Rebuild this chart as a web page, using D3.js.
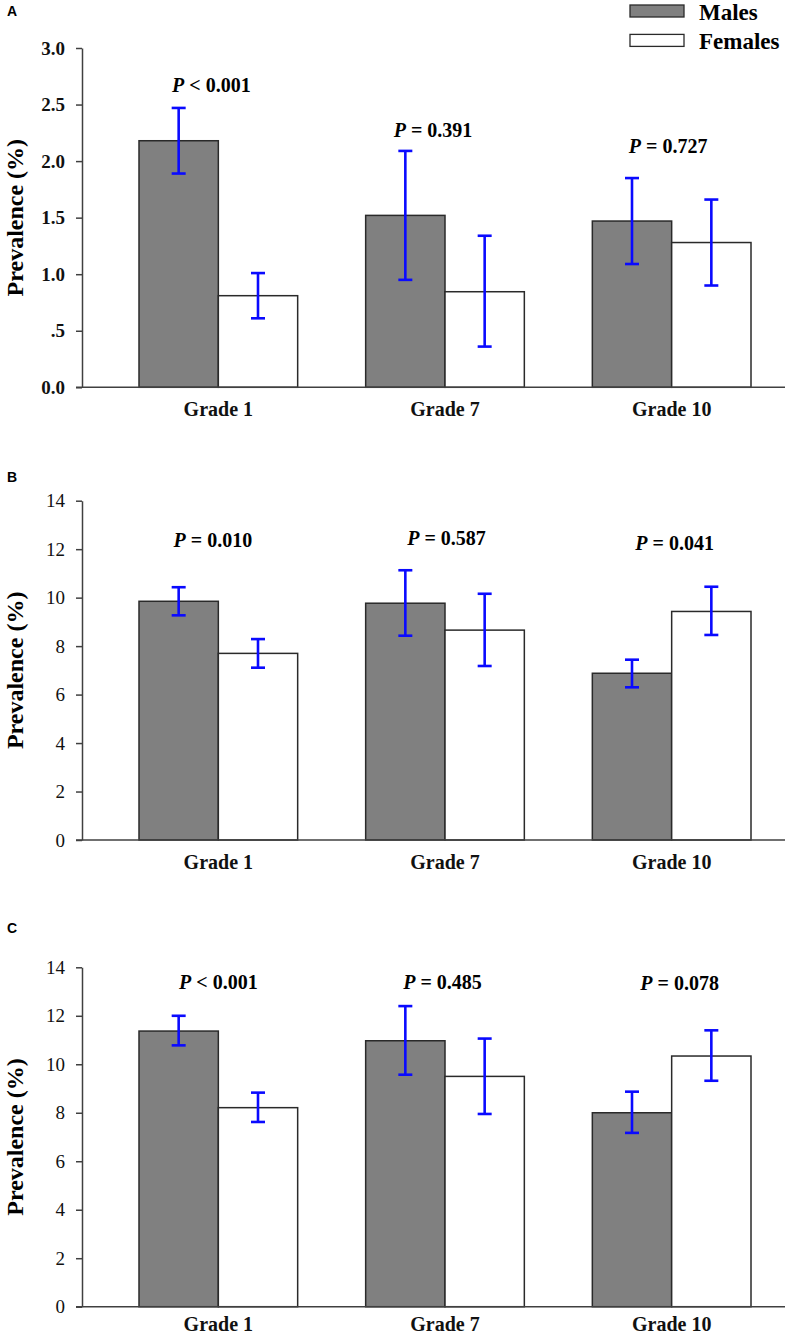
<!DOCTYPE html>
<html>
<head>
<meta charset="utf-8">
<script src="https://cdn.jsdelivr.net/npm/d3@7"></script>
<style>
  body { margin: 0; background: #fff; }
  svg { display: block; }
  .serif { font-family: "Liberation Serif", "Times New Roman", "DejaVu Serif", serif; }
  .sans { font-family: "Liberation Sans", Arial, sans-serif; }
</style>
</head>
<body>
<script>
// categories
const grades = ["Grade 1", "Grade 7", "Grade 10"];
const sexes = ["Males", "Females"];

// panel A (prevalence %, with 95% CI)
const aMales = [2.18, 1.52, 1.47];
const aMalesCI = [[1.89, 2.47], [0.95, 2.09], [1.09, 1.85]];
const aFemales = [0.81, 0.845, 1.28];
const aFemalesCI = [[0.61, 1.01], [0.36, 1.34], [0.90, 1.66]];
const aP = ["< 0.001", "= 0.391", "= 0.727"];
const aTicks = [0, 0.5, 1, 1.5, 2, 2.5, 3];
const aTickLabels = ["0.0", ".5", "1.0", "1.5", "2.0", "2.5", "3.0"];

// panel B
const bMales = [9.85, 9.77, 6.88];
const bMalesCI = [[9.27, 10.43], [8.43, 11.13], [6.30, 7.44]];
const bFemales = [7.70, 8.66, 9.43];
const bFemalesCI = [[7.11, 8.29], [7.18, 10.16], [8.46, 10.45]];
const bP = ["= 0.010", "= 0.587", "= 0.041"];
const bTicks = [0, 2, 4, 6, 8, 10, 12, 14];

// panel C
const cMales = [11.37, 10.97, 8.00];
const cMalesCI = [[10.78, 12.00], [9.57, 12.40], [7.17, 8.87]];
const cFemales = [8.21, 9.50, 10.34];
const cFemalesCI = [[7.62, 8.83], [7.95, 11.06], [9.32, 11.40]];
const cP = ["< 0.001", "= 0.485", "= 0.078"];
const cTicks = [0, 2, 4, 6, 8, 10, 12, 14];

const W = 787, H = 1337;

const svg = d3.select("body").append("svg")
    .attr("width", W)
    .attr("height", H);

// layout of each panel (pixels) + where the P text sits (value units) and nudges
const panels = [
  { letter: "A", letterY: 16, top: 48, bottom: 387.3, max: 3, gradePad: 15,
    males: aMales, malesCI: aMalesCI, females: aFemales, femalesCI: aFemalesCI,
    p: aP, pAt: [2.61, 2.21, 2.07], pDx: [-7, -12, -3.5],
    ticks: aTicks, tickFmt: d => aTickLabels[aTicks.indexOf(d)], tickBold: true },
  { letter: "B", letterY: 481.7, top: 500.7, bottom: 840, max: 14, gradePad: 15,
    males: bMales, malesCI: bMalesCI, females: bFemales, femalesCI: bFemalesCI,
    p: bP, pAt: [12.07, 12.17, 11.96], pDx: [-5.5, 1.5, 3],
    ticks: bTicks, tickFmt: d => d, tickBold: false },
  { letter: "C", letterY: 932.7, top: 967.3, bottom: 1306.7, max: 14, gradePad: 10.5,
    males: cMales, malesCI: cMalesCI, females: cFemales, femalesCI: cFemalesCI,
    p: cP, pAt: [13.09, 13.09, 13.07], pDx: [0, -2.5, 8],
    ticks: cTicks, tickFmt: d => d, tickBold: false }
];

const axisX = 82;
const x = d3.scaleBand()
    .domain(grades)
    .range([105, 785])
    .paddingInner(0.3)
    .paddingOuter(0.15);
const xSex = d3.scaleBand()
    .domain(sexes)
    .range([0, x.bandwidth()]);
const fills = { Males: "#808080", Females: "#ffffff" };

panels.forEach(pn => {
    const y = d3.scaleLinear().domain([0, pn.max]).range([pn.bottom, pn.top]);
    const g = svg.append("g");

    // panel letter
    g.append("text")
        .attr("class", "sans")
        .attr("x", 7)
        .attr("y", pn.letterY)
        .style("font-weight", "bold")
        .style("font-size", "14px")
        .text(pn.letter);

    // y axis
    const yAxis = g.append("g")
        .attr("transform", `translate(${axisX},0)`)
        .call(d3.axisLeft(y)
            .tickValues(pn.ticks)
            .tickFormat(pn.tickFmt)
            .tickSize(6)
            .tickSizeOuter(0)
            .tickPadding(11));
    yAxis.attr("font-family", null);
    yAxis.selectAll("path, line").attr("stroke", "#404040").attr("stroke-width", 1.5);
    yAxis.selectAll("text")
        .attr("class", "serif")
        .style("font-size", "19px")
        .style("font-weight", pn.tickBold ? "bold" : "normal")
        .attr("fill", "#111");

    // y label
    g.append("text")
        .attr("class", "serif")
        .attr("transform", `translate(23,${(pn.top + pn.bottom) / 2}) rotate(-90)`)
        .attr("text-anchor", "middle")
        .style("font-weight", "bold")
        .style("font-size", "24px")
        .text("Prevalence (%)");

    // bars
    const rows = [];
    grades.forEach((gr, i) => {
        rows.push({ grade: gr, sex: "Males", v: pn.males[i], ci: pn.malesCI[i] });
        rows.push({ grade: gr, sex: "Females", v: pn.females[i], ci: pn.femalesCI[i] });
    });

    g.selectAll(".bar")
        .data(rows)
        .join("rect")
        .attr("class", "bar")
        .attr("x", d => x(d.grade) + xSex(d.sex))
        .attr("y", d => y(d.v))
        .attr("width", xSex.bandwidth())
        .attr("height", d => y(0) - y(d.v))
        .attr("fill", d => fills[d.sex])
        .attr("stroke", "#2a2a2a")
        .attr("stroke-width", 1.5);

    // x axis line
    g.append("line")
        .attr("x1", axisX - 6)
        .attr("x2", 785)
        .attr("y1", y(0))
        .attr("y2", y(0))
        .attr("stroke", "#404040")
        .attr("stroke-width", 1.5);

    const xAxis = g.append("g")
        .attr("transform", `translate(0,${y(0)})`)
        .call(d3.axisBottom(x).tickSize(0).tickPadding(pn.gradePad));
    xAxis.attr("font-family", null);
    xAxis.select(".domain").remove();
    xAxis.selectAll("text")
        .attr("class", "serif")
        .style("font-size", "20px")
        .style("font-weight", "bold")
        .attr("fill", "#111");

    // error bars
    const cx = d => x(d.grade) + xSex(d.sex) + xSex.bandwidth() / 2;
    const err = g.selectAll(".err")
        .data(rows)
        .join("g")
        .attr("class", "err")
        .attr("stroke", "#0a0aff")
        .attr("stroke-width", 2.6);
    err.append("line")
        .attr("x1", cx).attr("x2", cx)
        .attr("y1", d => y(d.ci[0])).attr("y2", d => y(d.ci[1]));
    err.append("line")
        .attr("x1", d => cx(d) - 7).attr("x2", d => cx(d) + 7)
        .attr("y1", d => y(d.ci[1])).attr("y2", d => y(d.ci[1]));
    err.append("line")
        .attr("x1", d => cx(d) - 7).attr("x2", d => cx(d) + 7)
        .attr("y1", d => y(d.ci[0])).attr("y2", d => y(d.ci[0]));

    // P values
    grades.forEach((gr, i) => {
        const t = g.append("text")
            .attr("class", "serif")
            .attr("x", x(gr) + x.bandwidth() / 2 + pn.pDx[i])
            .attr("y", y(pn.pAt[i]))
            .attr("text-anchor", "middle")
            .style("font-weight", "bold")
            .style("font-size", "20px");
        t.append("tspan").style("font-style", "italic").text("P");
        t.append("tspan").text(" " + pn.p[i]);
    });
});

// legend
const legend = svg.append("g");
sexes.forEach((s, i) => {
    legend.append("rect")
        .attr("x", 630)
        .attr("y", 5 + i * 29.4)
        .attr("width", 54)
        .attr("height", 12)
        .attr("fill", fills[s])
        .attr("stroke", "#2a2a2a")
        .attr("stroke-width", 1.3);
    legend.append("text")
        .attr("class", "serif")
        .attr("x", 699)
        .attr("y", 20 + i * 29.4)
        .style("font-weight", "bold")
        .style("font-size", "23px")
        .text(s);
});
</script>
</body>
</html>
